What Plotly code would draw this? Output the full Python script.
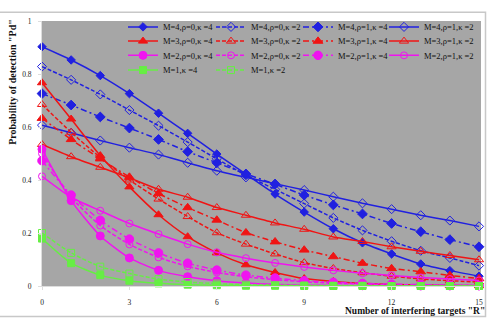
import plotly.graph_objects as go

# ---------------- data ----------------
R = list(range(16))
x_tick_vals = [0, 3, 6, 9, 12, 15]
y_tick_vals = [0, 0.2, 0.4, 0.6, 0.8, 1]
y_tick_text = ["0", "0.2", "0.4", "0.6", "0.8", "1"]

# M=4 (blue)
m4_r0_k4 = [0.903, 0.853, 0.794, 0.726, 0.652, 0.576, 0.498, 0.422, 0.347, 0.279, 0.216, 0.163, 0.121, 0.083, 0.058, 0.037]
m4_r0_k2 = [0.828, 0.778, 0.723, 0.664, 0.605, 0.543, 0.480, 0.418, 0.365, 0.311, 0.257, 0.210, 0.169, 0.133, 0.106, 0.077]
m4_r1_k4 = [0.726, 0.683, 0.638, 0.596, 0.553, 0.507, 0.465, 0.423, 0.384, 0.343, 0.306, 0.272, 0.236, 0.205, 0.175, 0.148]
m4_r1_k2 = [0.607, 0.578, 0.549, 0.522, 0.496, 0.465, 0.435, 0.410, 0.386, 0.362, 0.337, 0.312, 0.290, 0.267, 0.247, 0.225]
# M=3 (red)
m3_r0_k4 = [0.767, 0.630, 0.492, 0.374, 0.269, 0.186, 0.125, 0.080, 0.051, 0.028, 0.017, 0.010, 0.006, 0.004, 0.002, 0.001]
m3_r0_k2 = [0.685, 0.580, 0.485, 0.400, 0.328, 0.262, 0.201, 0.158, 0.121, 0.088, 0.066, 0.050, 0.037, 0.027, 0.020, 0.015]
m3_r1_k4 = [0.633, 0.553, 0.480, 0.411, 0.349, 0.296, 0.249, 0.201, 0.167, 0.136, 0.111, 0.086, 0.066, 0.054, 0.040, 0.028]
m3_r1_k2 = [0.534, 0.488, 0.448, 0.408, 0.365, 0.335, 0.296, 0.267, 0.238, 0.214, 0.185, 0.168, 0.148, 0.131, 0.115, 0.099]
# M=2 (magenta)
m2_r0_k4 = [0.516, 0.322, 0.189, 0.106, 0.059, 0.035, 0.020, 0.011, 0.006, 0.003, 0.002, 0.001, 0.001, 0.000, 0.000, 0.000]
m2_r0_k2 = [0.500, 0.335, 0.228, 0.157, 0.108, 0.074, 0.051, 0.035, 0.024, 0.016, 0.011, 0.008, 0.005, 0.004, 0.003, 0.002]
m2_r1_k4 = [0.473, 0.343, 0.248, 0.177, 0.125, 0.086, 0.060, 0.041, 0.030, 0.020, 0.014, 0.010, 0.007, 0.005, 0.003, 0.002]
m2_r1_k2 = [0.414, 0.335, 0.284, 0.236, 0.196, 0.158, 0.127, 0.105, 0.087, 0.072, 0.059, 0.048, 0.040, 0.032, 0.026, 0.021]
# M=1 (green)
m1_k4 = [0.179, 0.086, 0.041, 0.020, 0.010, 0.005, 0.003, 0.001, 0.001, 0.000, 0.000, 0.000, 0.000, 0.000, 0.000, 0.000]
m1_k2 = [0.200, 0.125, 0.073, 0.047, 0.026, 0.015, 0.009, 0.005, 0.003, 0.002, 0.001, 0.001, 0.000, 0.000, 0.000, 0.000]

BLUE, RED, MAG, GREEN = "#2020E0", "#F01414", "#F014F0", "#66EE44"
DASH_SHORT = "4px,2px"
DASH_DOT = "6px,3px,2px,3px"

series = [
    # name, values, color, dash, symbol, size, (legend row, legend column)
    ("M=4,ρ=0,κ =4", m4_r0_k4, BLUE, "solid", "diamond", 6.5, (0, 0)),
    ("M=4,ρ=0,κ =2", m4_r0_k2, BLUE, DASH_SHORT, "diamond-open", 7, (0, 1)),
    ("M=4,ρ=1,κ =4", m4_r1_k4, BLUE, DASH_DOT, "diamond", 7.5, (0, 2)),
    ("M=4,ρ=1,κ =2", m4_r1_k2, BLUE, "solid", "diamond-open", 7, (0, 3)),
    ("M=3,ρ=0,κ =4", m3_r0_k4, RED, "solid", "triangle-up", 8, (1, 0)),
    ("M=3,ρ=0,κ =2", m3_r0_k2, RED, DASH_SHORT, "triangle-up-open", 8, (1, 1)),
    ("M=3,ρ=1,κ =4", m3_r1_k4, RED, DASH_DOT, "triangle-up", 8.5, (1, 2)),
    ("M=3,ρ=1,κ =2", m3_r1_k2, RED, "solid", "triangle-up-open", 8, (1, 3)),
    ("M=2,ρ=0,κ =4", m2_r0_k4, MAG, "solid", "circle", 8, (2, 0)),
    ("M=2,ρ=0,κ =2", m2_r0_k2, MAG, DASH_SHORT, "circle-open", 7, (2, 1)),
    ("M=2,ρ=1,κ =4", m2_r1_k4, MAG, DASH_DOT, "circle", 8.5, (2, 2)),
    ("M=2,ρ=1,κ =2", m2_r1_k2, MAG, "solid", "circle-open", 7, (2, 3)),
    ("M=1,κ =4", m1_k4, GREEN, "solid", "square", 7, (3, 0)),
    ("M=1,κ =2", m1_k2, GREEN, DASH_SHORT, "square-open", 7, (3, 1)),
]

W, H = 494, 319
L, Rm, T, B = 42, 13, 16, 33
pw, ph = W - L - Rm, H - T - B

def px_x(p):
    return (p - L) / pw

def px_y(p):
    return (H - B - p) / ph

serif = "Liberation Serif, Times New Roman, serif"
legend_text_x = [157, 245, 332, 418]     # pixel column of legend text starts
legend_row_y = [22, 36.5, 51, 66]        # pixel row centres

fig = go.Figure()
legend_layouts = {}
for i, (name, vals, color, dash, sym, size, (row, col)) in enumerate(series):
    key = "legend" if i == 0 else f"legend{i + 1}"
    fig.add_trace(go.Scatter(
        x=R, y=vals, name=name, mode="lines+markers",
        line=dict(color=color, width=1.5, dash=dash, shape="spline", smoothing=0.6),
        marker=dict(symbol=sym, size=size, color=color, line=dict(color=color, width=1)),
        cliponaxis=False, legend=key,
    ))
    legend_layouts[key] = dict(
        x=px_x(legend_text_x[col] - 34), y=px_y(legend_row_y[row]),
        xanchor="left", yanchor="middle",
        bgcolor="rgba(0,0,0,0)", borderwidth=0,
        font=dict(family=serif, size=8.5, color="#111"),
        itemsizing="trace",
    )

fig.update_layout(
    width=W, height=H,
    margin=dict(l=L, r=Rm, t=T, b=B, pad=0),
    paper_bgcolor="white", plot_bgcolor="#A6A6A6",
    showlegend=True,
    xaxis=dict(range=[0, 15 * pw / 437], tickvals=x_tick_vals, ticktext=[str(v) for v in x_tick_vals],
               showgrid=False, zeroline=False, showline=True, linecolor="#DDDDDD", linewidth=1,
               ticks="outside", ticklen=3, tickcolor="#DDDDDD", ticklabelstandoff=6,
               tickfont=dict(family=serif, size=7.5, color="#222"), fixedrange=True),
    yaxis=dict(range=[0, 1], tickvals=y_tick_vals, ticktext=y_tick_text,
               showgrid=False, zeroline=False, showline=True, linecolor="#DDDDDD", linewidth=1,
               ticks="outside", ticklen=3, tickcolor="#DDDDDD", ticklabelstandoff=5,
               tickfont=dict(family=serif, size=7.5, color="#222"), fixedrange=True),
    annotations=[
        dict(text="<b>Probability of detection \"Pd\"</b>", xref="paper", yref="paper",
             x=px_x(13), y=px_y(78), textangle=-90, showarrow=False,
             xanchor="center", yanchor="middle",
             font=dict(family=serif, size=10, color="#111")),
        dict(text="<b>Number of interfering targets \"R\"</b>", xref="paper", yref="paper",
             x=px_x(487), y=px_y(311.5), showarrow=False, xanchor="right", yanchor="middle",
             font=dict(family=serif, size=9.5, color="#111")),
    ],
    shapes=[
        dict(type="rect", xref="paper", yref="paper",
             x0=px_x(-5), x1=px_x(485.5), y0=px_y(317), y1=px_y(7),
             line=dict(color="#C8C8C8", width=1.5), fillcolor="rgba(0,0,0,0)", layer="below"),
    ],
)
fig.update_layout(**legend_layouts)

fig.write_html("out.html")
